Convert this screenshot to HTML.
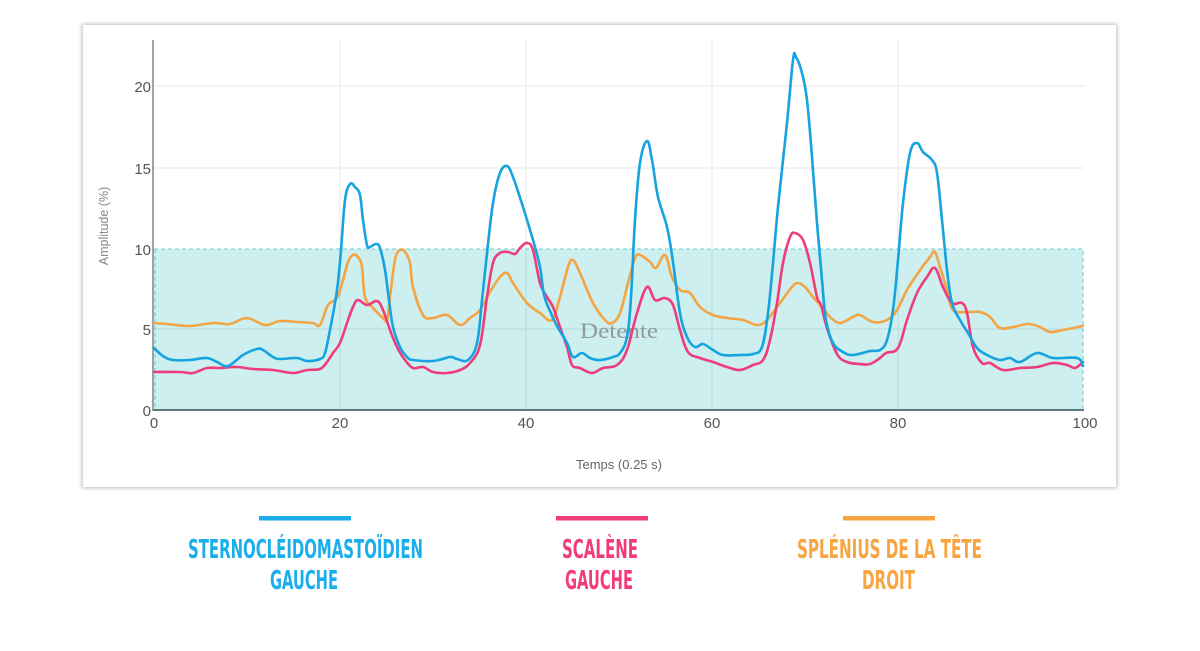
<!DOCTYPE html>
<html>
<head>
<meta charset="utf-8">
<style>
html,body{margin:0;padding:0;background:#fff;}
body{width:1200px;height:651px;position:relative;overflow:hidden;}
.card{position:absolute;left:83px;top:25px;width:1033px;height:462px;background:#fff;box-shadow:0 0 4px 1px rgba(0,0,0,0.28);}
svg{position:absolute;left:0;top:0;}
</style>
</head>
<body>
<div class="card"></div>
<svg width="1200" height="651" viewBox="0 0 1200 651" xmlns="http://www.w3.org/2000/svg">
  <!-- gridlines -->
  <g stroke="#ececec" stroke-width="1.2">
    <line x1="154" y1="86" x2="1084" y2="86"/>
    <line x1="154" y1="168" x2="1084" y2="168"/>
    <line x1="340" y1="40" x2="340" y2="410"/>
    <line x1="526" y1="40" x2="526" y2="410"/>
    <line x1="712" y1="40" x2="712" y2="410"/>
    <line x1="898" y1="40" x2="898" y2="410"/>
  </g>
  <!-- shaded region -->
  <rect x="154" y="249" width="929" height="161" fill="#cdeff0"/>
  <g stroke="#b9d9da" stroke-width="1">
    <line x1="154" y1="329" x2="1083" y2="329"/>
    <line x1="340" y1="249" x2="340" y2="410"/>
    <line x1="526" y1="249" x2="526" y2="410"/>
    <line x1="712" y1="249" x2="712" y2="410"/>
    <line x1="898" y1="249" x2="898" y2="410"/>
  </g>
  <path d="M154 249 H1083 V410" fill="none" stroke="#86d4d6" stroke-width="1.3" stroke-dasharray="4 3"/>
  <line x1="155" y1="249" x2="155" y2="410" stroke="#86d4d6" stroke-width="1.3" stroke-dasharray="4 3"/>
  <text x="580" y="338" font-family="Liberation Serif, serif" font-size="22" fill="#8f9a9a" textLength="78" lengthAdjust="spacingAndGlyphs">Detente</text>

  <!-- axes -->
  <line x1="153" y1="40" x2="153" y2="411" stroke="#8a8a8a" stroke-width="1.6"/>
  <line x1="153" y1="410" x2="1084" y2="410" stroke="#5f7b79" stroke-width="2"/>

  <!-- y tick labels -->
  <g font-family="Liberation Sans, sans-serif" font-size="15" fill="#555" text-anchor="end">
    <text x="151" y="92">20</text>
    <text x="151" y="174">15</text>
    <text x="151" y="255">10</text>
    <text x="151" y="335">5</text>
    <text x="151" y="416">0</text>
  </g>
  <!-- x tick labels -->
  <g font-family="Liberation Sans, sans-serif" font-size="15" fill="#555" text-anchor="middle">
    <text x="154" y="428">0</text>
    <text x="340" y="428">20</text>
    <text x="526" y="428">40</text>
    <text x="712" y="428">60</text>
    <text x="898" y="428">80</text>
    <text x="1085" y="428">100</text>
  </g>
  <text x="619" y="469" font-family="Liberation Sans, sans-serif" font-size="13" fill="#666" text-anchor="middle">Temps (0.25 s)</text>
  <text x="0" y="0" transform="translate(108,226) rotate(-90)" font-family="Liberation Sans, sans-serif" font-size="12.5" fill="#888" text-anchor="middle">Amplitude (%)</text>

  <!-- series -->
  <g id="series" fill="none" stroke-width="2.6" stroke-linejoin="round" stroke-linecap="round">
    <polyline stroke="#f3a443" points="154,323 167,324 190,326 213,323 230,324 247,318 265,325 280,321 297,322 313,323 320,325 328,305 337,298 343,280 348,262 353,255 358,257 362,267 365,297 373,308 383,318 387,320 390,297 395,260 400,250 405,252 410,263 413,287 423,315 433,318 447,315 460,325 470,318 480,310 490,292 500,277 507,273 513,283 527,303 540,313 552,320 560,297 568,267 573,260 580,273 593,303 605,320 612,323 620,313 628,283 635,258 640,255 650,262 656,268 665,255 672,277 680,290 690,293 700,307 713,315 727,318 743,320 757,325 767,320 780,303 792,287 798,283 805,287 813,297 823,308 830,317 840,323 853,317 860,315 873,322 887,320 897,310 907,290 918,273 930,257 935,252 940,267 947,290 953,310 967,312 980,312 990,317 1000,328 1013,327 1028,324 1040,327 1050,332 1063,330 1083,326"/>
    <polyline stroke="#ee3d7a" points="154,372 180,372 193,373 207,368 220,368 237,367 253,369 273,370 293,373 307,370 320,369 327,362 333,353 340,343 347,323 353,307 358,300 367,305 377,301 383,310 390,330 397,347 405,360 413,368 423,367 433,372 447,373 460,370 470,363 480,345 487,297 493,263 500,253 508,252 515,254 520,248 527,243 533,250 540,283 547,297 553,307 560,327 567,347 572,365 580,368 592,373 603,368 617,365 627,350 637,313 647,287 655,300 665,298 673,305 680,330 688,352 700,358 713,362 727,367 740,370 753,365 763,360 770,340 777,303 783,263 790,237 795,233 803,240 810,263 817,297 821,305 827,328 837,354 847,362 860,364 870,364 880,358 886,353 898,348 907,320 917,293 927,277 935,268 943,287 952,303 962,303 967,313 973,347 982,363 990,363 1003,370 1020,368 1037,367 1053,363 1067,365 1075,368 1083,362"/>
    <polyline stroke="#16a3e0" points="154,348 163,356 173,360 190,360 207,358 217,362 228,366 243,355 257,349 263,350 273,357 280,359 297,358 307,361 320,359 325,353 330,330 337,290 341,250 345,200 350,184 355,187 360,195 363,220 367,245 370,247 376,244 380,248 385,270 389,300 393,327 400,347 407,357 413,360 433,361 450,357 457,359 468,360 477,343 482,300 487,253 493,203 500,173 507,166 513,177 523,207 533,240 540,267 544,295 550,311 557,326 567,343 573,357 582,353 590,358 600,360 613,357 620,353 627,337 631,297 635,220 640,163 647,141 652,160 658,197 667,227 673,262 680,313 687,337 695,347 703,344 713,350 723,355 740,355 753,354 762,347 768,313 773,263 778,207 787,123 793,60 796,57 802,73 807,100 812,157 817,223 822,280 826,320 833,343 843,352 853,355 870,351 880,350 887,340 893,310 898,260 903,203 910,153 917,143 923,152 932,160 937,173 942,220 947,270 952,303 960,320 968,333 977,348 987,355 1000,360 1010,358 1020,362 1037,353 1053,358 1077,358 1083,366"/>
  </g>

  <!-- legend -->
  <rect x="259" y="516" width="92" height="4.5" fill="#1aaeea"/>
  <rect x="556" y="516" width="92" height="4.5" fill="#f03c7c"/>
  <rect x="843" y="516" width="92" height="4.5" fill="#f7a540"/>
  <g font-family="Liberation Sans Narrow, DejaVu Sans Condensed, Liberation Sans, sans-serif" font-weight="bold" font-size="26">
    <text x="188" y="558" fill="#1aaeea" textLength="235" lengthAdjust="spacingAndGlyphs">STERNOCLÉIDOMASTOÏDIEN</text>
    <text x="270" y="589" fill="#1aaeea" textLength="68" lengthAdjust="spacingAndGlyphs">GAUCHE</text>
    <text x="562" y="558" fill="#f03c7c" textLength="76" lengthAdjust="spacingAndGlyphs">SCALÈNE</text>
    <text x="565" y="589" fill="#f03c7c" textLength="68" lengthAdjust="spacingAndGlyphs">GAUCHE</text>
    <text x="797" y="558" fill="#f7a540" textLength="185" lengthAdjust="spacingAndGlyphs">SPLÉNIUS DE LA TÊTE</text>
    <text x="862" y="589" fill="#f7a540" textLength="53" lengthAdjust="spacingAndGlyphs">DROIT</text>
  </g>
</svg>
<script>
(function(){
  try{
    var ns="http://www.w3.org/2000/svg";
    var pls=document.querySelectorAll('#series polyline');
    for(var k=0;k<pls.length;k++){
      var pl=pls[k];
      var pts=pl.getAttribute('points').trim().split(/\s+/).map(function(s){var a=s.split(',');return [+a[0],+a[1]];});
      var d='M'+pts[0][0]+' '+pts[0][1];
      for(var i=0;i<pts.length-1;i++){
        var p0=pts[i-1]||pts[i],p1=pts[i],p2=pts[i+1],p3=pts[i+2]||p2;
        var t=0.18;
        var c1x=p1[0]+(p2[0]-p0[0])*t,c1y=p1[1]+(p2[1]-p0[1])*t;
        var c2x=p2[0]-(p3[0]-p1[0])*t,c2y=p2[1]-(p3[1]-p1[1])*t;
        d+=' C'+c1x.toFixed(1)+' '+c1y.toFixed(1)+' '+c2x.toFixed(1)+' '+c2y.toFixed(1)+' '+p2[0]+' '+p2[1];
      }
      var p=document.createElementNS(ns,'path');
      p.setAttribute('d',d);
      p.setAttribute('stroke',pl.getAttribute('stroke'));
      pl.parentNode.replaceChild(p,pl);
    }
  }catch(e){}
})();
</script>
</body>
</html>
